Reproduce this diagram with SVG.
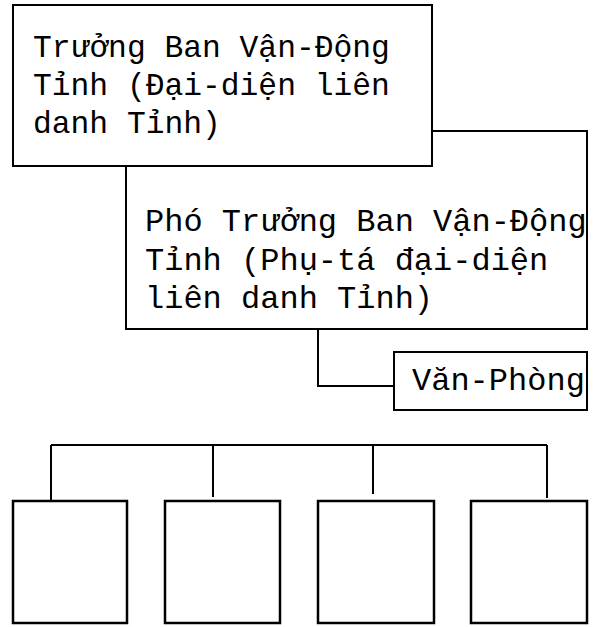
<svg xmlns="http://www.w3.org/2000/svg" width="603" height="627" viewBox="0 0 603 627">
<style>
.box{fill:#fff;stroke:#000;stroke-width:2}
.sub{fill:#fff;stroke:#000;stroke-width:2.5}
.conn{fill:none;stroke:#000;stroke-width:2}
.t{font-family:"Liberation Mono","DejaVu Sans Mono",monospace;font-size:32px;fill:#000}
</style>
<rect width="603" height="627" fill="#fff"/>
<g id="connectors">
<path class="conn" d="M318,329 V386 H394"/>
<path class="conn" d="M51,445 H547"/>
<path class="conn" d="M51,445 V501"/>
<path class="conn" d="M213,445 V497"/>
<path class="conn" d="M373,445 V494"/>
<path class="conn" d="M547,445 V498"/>
</g>
<g id="pho-truong-ban">
<rect class="box" x="126" y="131" width="461" height="198"/>
<text class="t" x="145" y="231">Phó Trưởng Ban Vận-Động</text>
<text class="t" x="145" y="270">Tỉnh (Phụ-tá đại-diện</text>
<text class="t" x="145" y="308">liên danh Tỉnh)</text>
</g>
<g id="truong-ban">
<rect class="box" x="13" y="5" width="419" height="161"/>
<text class="t" x="33" y="57" font-size="31.3" style="font-size:31.3px">Trưởng Ban Vận-Động</text>
<text class="t" x="33" y="95" style="font-size:31.3px">Tỉnh (Đại-diện liên</text>
<text class="t" x="33" y="133" style="font-size:31.3px">danh Tỉnh)</text>
</g>
<g id="van-phong">
<rect class="box" x="394" y="352" width="193" height="58"/>
<text class="t" x="412" y="390">Văn-Phòng</text>
</g>
<g id="unit-1"><rect class="sub" x="13" y="501" width="114" height="122"/></g>
<g id="unit-2"><rect class="sub" x="165" y="501" width="115" height="122"/></g>
<g id="unit-3"><rect class="sub" x="318" y="501" width="116" height="122"/></g>
<g id="unit-4"><rect class="sub" x="471" y="501" width="116" height="122"/></g>
</svg>
